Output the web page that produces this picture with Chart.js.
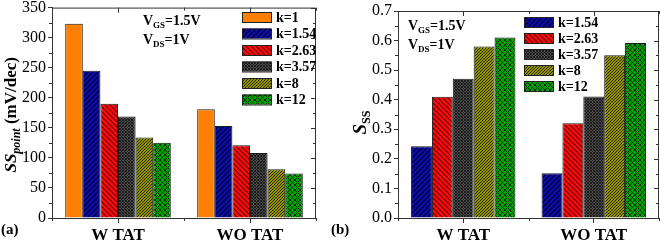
<!DOCTYPE html>
<html>
<head>
<meta charset="utf-8">
<script src="https://cdn.jsdelivr.net/npm/chart.js@4"></script>
<style>
html, body { margin: 0; padding: 0; background: #fff; }
#wrap { position: relative; width: 660px; height: 241px; }
canvas { position: absolute; top: 0; }
#chartA { left: 0; }
#chartB { left: 330px; }
</style>
</head>
<body>
<div id="wrap">
  <canvas id="chartA" width="330" height="241"></canvas>
  <canvas id="chartB" width="330" height="241"></canvas>
</div>
<script>
/* Data */
const groups = ["W TAT", "WO TAT"];

// (a) SS_point (mV/dec), [W TAT, WO TAT]
const ssPointK1 = [323, 181];
const ssPointK154 = [245, 153];
const ssPointK263 = [190, 121];
const ssPointK357 = [169, 108];
const ssPointK8 = [134, 81];
const ssPointK12 = [125, 74];

// (b) S_SS, [W TAT, WO TAT]
const sssK154 = [0.243, 0.151];
const sssK263 = [0.41, 0.32];
const sssK357 = [0.471, 0.411];
const sssK8 = [0.58, 0.55];
const sssK12 = [0.61, 0.592];

const ticksA = [0, 50, 100, 150, 200, 250, 300, 350];
const ticksB = [0, 0.1, 0.2, 0.3, 0.4, 0.5, 0.6, 0.7];

const SERIF = '"Liberation Serif", "Times New Roman", serif';

/* Patterns */
function makePattern(base, lineColor, size, dirs, lw) {
    const c = document.createElement("canvas");
    c.width = size;
    c.height = size;
    const g = c.getContext("2d");
    g.fillStyle = base;
    g.fillRect(0, 0, size, size);
    g.strokeStyle = lineColor;
    g.lineWidth = lw;
    g.beginPath();
    if (dirs.includes("/")) {
        g.moveTo(-1, size + 1); g.lineTo(size + 1, -1);
        g.moveTo(-1, 1); g.lineTo(1, -1);
        g.moveTo(size - 1, size + 1); g.lineTo(size + 1, size - 1);
    }
    if (dirs.includes("\\")) {
        g.moveTo(-1, -1); g.lineTo(size + 1, size + 1);
        g.moveTo(-1, size - 1); g.lineTo(1, size + 1);
        g.moveTo(size - 1, -1); g.lineTo(size + 1, 1);
    }
    g.stroke();
    return g.createPattern(c, "repeat");
}

const fillK1 = "#ff8000";
const fillK154 = makePattern("#0c0cac", "#000028", 5, "/", 1.2);
const fillK263 = makePattern("#ff0a0a", "#640000", 5, "\\", 1.2);
const fillK357 = makePattern("#4a4a4a", "#1a1a1a", 3, "/\\", 0.9);
const fillK8 = makePattern("#929200", "#2a2a00", 3, "/", 1);
const fillK12 = makePattern("#00a400", "#002c00", 5, "/\\", 1);

/* Helpers */
function drawParts(ctx, x, y, parts, align) {
    let total = 0;
    parts.forEach(p => { ctx.font = p.font; total += ctx.measureText(p.text).width; });
    let cx = align === "center" ? x - total / 2 : x;
    ctx.textBaseline = "alphabetic";
    ctx.textAlign = "left";
    parts.forEach(p => {
        ctx.font = p.font;
        ctx.fillText(p.text, cx, y + (p.dy || 0));
        cx += ctx.measureText(p.text).width;
    });
}

const decorPlugin = {
    id: "decor",
    afterDraw(chart, args, opts) {
        const ctx = chart.ctx;
        const area = chart.chartArea;
        const y = chart.scales.y;
        const x = chart.scales.x;
        ctx.save();
        ctx.strokeStyle = "#333";
        ctx.lineWidth = 1;

        // frame
        ctx.beginPath();
        ctx.moveTo(area.left, area.top + 0.5);
        ctx.lineTo(area.right - 0.5, area.top + 0.5);
        ctx.lineTo(area.right - 0.5, area.bottom);
        ctx.stroke();

        // y ticks: minor outward left, all inward right
        ctx.beginPath();
        for (let v = y.min; v <= y.max + 1e-9; v += opts.minorStep) {
            const py = Math.round(y.getPixelForValue(v)) + 0.5;
            const major = Math.abs(v / opts.majorStep - Math.round(v / opts.majorStep)) < 1e-6;
            if (!major) {
                ctx.moveTo(area.left - 3, py); ctx.lineTo(area.left, py);
            }
            const len = major ? 5 : 3;
            ctx.moveTo(area.right, py); ctx.lineTo(area.right - len, py);
        }
        // x ticks: centers inward on top, boundaries minor
        groups.forEach((g, i) => {
            const px = Math.round(x.getPixelForTick(i)) + 0.5;
            ctx.moveTo(px, area.top); ctx.lineTo(px, area.top + 5);
        });
        for (let i = 0; i <= groups.length; i++) {
            const px = Math.round(x.getPixelForValue(i - 0.5)) + 0.5;
            ctx.moveTo(px, area.bottom); ctx.lineTo(px, area.bottom + 3);
            ctx.moveTo(px, area.top); ctx.lineTo(px, area.top + 3);
        }
        ctx.stroke();

        // legend
        chart.data.datasets.forEach((ds, i) => {
            const ly = opts.legendY + i * opts.legendStep;
            ctx.fillStyle = ds.backgroundColor;
            ctx.fillRect(opts.legendX, ly - 5, 29, 10);
            ctx.strokeStyle = "#222";
            ctx.strokeRect(opts.legendX + 0.5, ly - 4.5, 29, 10);
            ctx.fillStyle = "#000";
            ctx.font = "bold 14px " + SERIF;
            ctx.textAlign = "left";
            ctx.textBaseline = "middle";
            ctx.fillText(ds.label, opts.legendX + 34, ly + 1);
        });

        // bias annotations
        ctx.fillStyle = "#000";
        drawParts(ctx, opts.noteX, opts.noteY, [
            { text: "V", font: "bold 14px " + SERIF },
            { text: "GS", font: "bold 9px " + SERIF, dy: 3 },
            { text: "=1.5V", font: "bold 14px " + SERIF }
        ]);
        drawParts(ctx, opts.noteX, opts.noteY + 19, [
            { text: "V", font: "bold 14px " + SERIF },
            { text: "DS", font: "bold 9px " + SERIF, dy: 3 },
            { text: "=1V", font: "bold 14px " + SERIF }
        ]);

        // y title
        ctx.translate(opts.titleX, (area.top + area.bottom) / 2 + opts.titleDY);
        ctx.rotate(-Math.PI / 2);
        drawParts(ctx, 0, 0, opts.titleParts, "center");
        ctx.restore();

        // panel tag
        ctx.save();
        ctx.fillStyle = "#000";
        ctx.font = "bold 15px " + SERIF;
        ctx.textAlign = "left";
        ctx.textBaseline = "alphabetic";
        ctx.fillText(opts.tag, 1, 234);
        ctx.restore();
    }
};

function makeOptions(tickValues, yWidth, padRight, padTop, fmt, decor) {
    return {
        responsive: false,
        animation: false,
        devicePixelRatio: 1,
        layout: { padding: { top: padTop, right: padRight, left: 0, bottom: 0 } },
        datasets: { bar: { barPercentage: 1, categoryPercentage: 0.8, borderWidth: 1, borderColor: "#1a1a1a" } },
        plugins: { legend: { display: false }, tooltip: { enabled: false }, decor: decor },
        scales: {
            x: {
                offset: true,
                grid: { display: true, drawOnChartArea: false, offset: false, tickLength: 5, color: "#333" },
                border: { color: "#333" },
                ticks: { color: "#000", padding: 2, font: { family: SERIF, size: 17, weight: "bold" } },
                afterFit: s => { s.height = 23; }
            },
            y: {
                min: tickValues[0],
                max: tickValues[tickValues.length - 1],
                grid: { display: true, drawOnChartArea: false, tickLength: 4, color: "#333" },
                border: { color: "#333" },
                afterBuildTicks: s => { s.ticks = tickValues.map(v => ({ value: v })); },
                ticks: {
                    color: "#000",
                    padding: 2,
                    font: { family: SERIF, size: 16, lineHeight: 0.7 },
                    callback: fmt
                },
                afterFit: s => { s.width = yWidth; }
            }
        }
    };
}

new Chart(document.querySelector("#chartA"), {
    type: "bar",
    data: {
        labels: groups,
        datasets: [
            { label: "k=1", data: ssPointK1, backgroundColor: fillK1 },
            { label: "k=1.54", data: ssPointK154, backgroundColor: fillK154 },
            { label: "k=2.63", data: ssPointK263, backgroundColor: fillK263 },
            { label: "k=3.57", data: ssPointK357, backgroundColor: fillK357 },
            { label: "k=8", data: ssPointK8, backgroundColor: fillK8 },
            { label: "k=12", data: ssPointK12, backgroundColor: fillK12 }
        ]
    },
    options: makeOptions(ticksA, 52, 14, 6, v => String(v), {
        minorStep: 25, majorStep: 50,
        legendX: 242, legendY: 17, legendStep: 16.5,
        noteX: 143, noteY: 25,
        titleX: 16, titleDY: 2,
        tag: "(a)",
        titleParts: [
            { text: "SS", font: "italic bold 17px " + SERIF },
            { text: "point", font: "italic bold 12px " + SERIF, dy: 4 },
            { text: " (mV/dec)", font: "bold 17px " + SERIF }
        ]
    }),
    plugins: [decorPlugin]
});

new Chart(document.querySelector("#chartB"), {
    type: "bar",
    data: {
        labels: groups,
        datasets: [
            { label: "k=1.54", data: sssK154, backgroundColor: fillK154 },
            { label: "k=2.63", data: sssK263, backgroundColor: fillK263 },
            { label: "k=3.57", data: sssK357, backgroundColor: fillK357 },
            { label: "k=8", data: sssK8, backgroundColor: fillK8 },
            { label: "k=12", data: sssK12, backgroundColor: fillK12 }
        ]
    },
    options: makeOptions(ticksB, 68, 1, 11, v => v.toFixed(1), {
        minorStep: 0.05, majorStep: 0.1,
        legendX: 194, legendY: 22, legendStep: 16,
        noteX: 78, noteY: 30,
        titleX: 36, titleDY: 8,
        tag: "(b)",
        titleParts: [
            { text: "S", font: "italic bold 19px " + SERIF },
            { text: "SS", font: "bold 12px " + SERIF, dy: 4 }
        ]
    }),
    plugins: [decorPlugin]
});
</script>
</body>
</html>
